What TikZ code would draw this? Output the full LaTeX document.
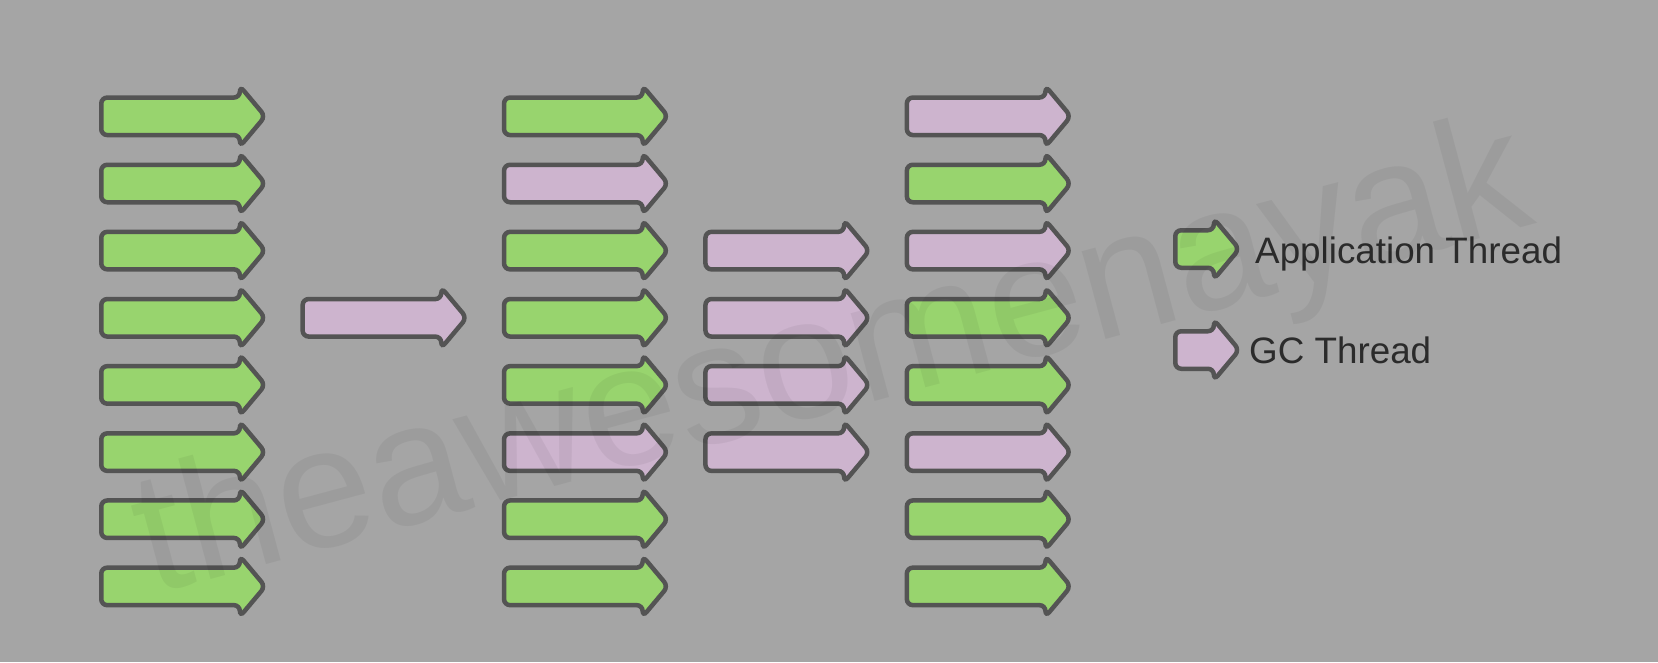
\documentclass[tikz,border=0pt]{standalone}
\usepackage{fontspec}
\setmainfont{Liberation Sans}
\usetikzlibrary{shapes.arrows}
\definecolor{bggray}{HTML}{A5A5A5}
\definecolor{appgreen}{HTML}{98D46E}
\definecolor{gcpink}{HTML}{CDB4CE}
\definecolor{edgegray}{HTML}{545454}
\definecolor{textgray}{HTML}{2B2B2B}
\begin{document}
\begin{tikzpicture}[x=1pt,y=-1pt]
	\fill[bggray] (0,0) rectangle (1658,662);
	\useasboundingbox (0,0) rectangle (1658,662);
	\begin{scope}[line width=4.5pt]
		\tikzstyle{every node}=[single arrow,draw=edgegray,anchor=tail,inner xsep=0pt,inner ysep=16.5pt,minimum height=164pt,single arrow head extend=11.5pt,single arrow tip angle=100,rounded corners=6pt];
		\tikzstyle{app}=[fill=appgreen];
		\tikzstyle{gc}=[fill=gcpink];
		% before: application threads only
		\path (99,116.3) node[app] (ta1) {};
		\path (99,183.5) node[app] (ta2) {};
		\path (99,250.6) node[app] (ta3) {};
		\path (99,317.8) node[app] (ta4) {};
		\path (99,384.9) node[app] (ta5) {};
		\path (99,452.1) node[app] (ta6) {};
		\path (99,519.2) node[app] (ta7) {};
		\path (99,586.4) node[app] (ta8) {};
		% single gc thread
		\path (300.4,317.8) node[gc] (tm) {};
		% mixed
		\path (501.8,116.3) node[app] (tb1) {};
		\path (501.8,183.5) node[gc]  (tb2) {};
		\path (501.8,250.6) node[app] (tb3) {};
		\path (501.8,317.8) node[app] (tb4) {};
		\path (501.8,384.9) node[app] (tb5) {};
		\path (501.8,452.1) node[gc]  (tb6) {};
		\path (501.8,519.2) node[app] (tb7) {};
		\path (501.8,586.4) node[app] (tb8) {};
		% parallel gc threads
		\path (703.2,250.6) node[gc] (tc3) {};
		\path (703.2,317.8) node[gc] (tc4) {};
		\path (703.2,384.9) node[gc] (tc5) {};
		\path (703.2,452.1) node[gc] (tc6) {};
		% concurrent
		\path (904.6,116.3) node[gc]  (td1) {};
		\path (904.6,183.5) node[app] (td2) {};
		\path (904.6,250.6) node[gc]  (td3) {};
		\path (904.6,317.8) node[app] (td4) {};
		\path (904.6,384.9) node[app] (td5) {};
		\path (904.6,452.1) node[gc]  (td6) {};
		\path (904.6,519.2) node[app] (td7) {};
		\path (904.6,586.4) node[app] (td8) {};
		% legend
		\path (1173,249) node[app,minimum height=64pt] (legapp) {};
		\path (1173,350) node[gc,minimum height=64pt] (leggc) {};
	\end{scope}
	\begin{scope}[every node/.style={anchor=base west,inner sep=0pt,text=textgray,font=\fontsize{36.8}{44}\selectfont}]
		\node (applbl) at (1255,263.3) {Application Thread};
		\node (gclbl) at (1249,363) {GC Thread};
	\end{scope}
	\node[rotate=15,text=black,opacity=0.05,font=\fontsize{172}{200}\selectfont] (mark) at (834,366) {theawesomenayak};
\end{tikzpicture}
\end{document}
